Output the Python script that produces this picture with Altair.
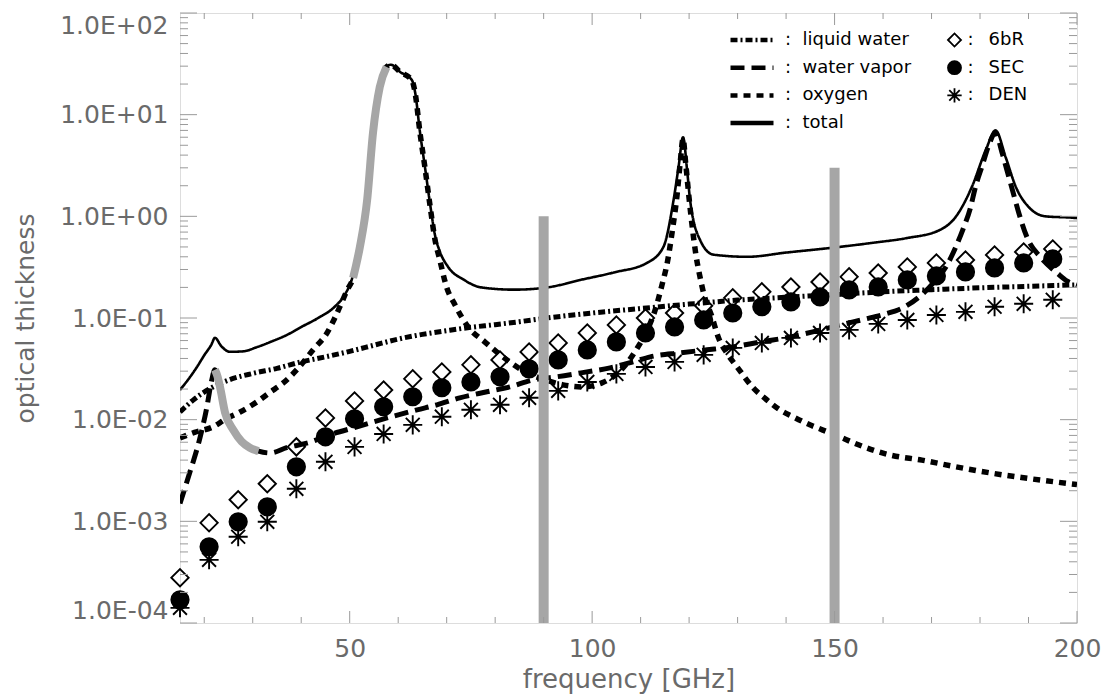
import altair as alt
import pandas as pd

# ---------------- data ----------------
freq_pts = [15, 21, 27, 33, 39, 45, 51, 57, 63, 69, 75, 81, 87, 93, 99, 105,
            111, 117, 123, 129, 135, 141, 147, 153, 159, 165, 171, 177, 183, 189, 195]
tau_6bR = [2.79e-4, 9.66e-4, 1.63e-3, 2.34e-3, 5.40e-3, 1.04e-2, 1.53e-2, 1.96e-2, 2.52e-2,
           2.95e-2, 3.46e-2, 3.87e-2, 4.64e-2, 5.69e-2, 7.13e-2, 8.55e-2, 0.100, 0.112, 0.132,
           0.158, 0.181, 0.202, 0.226, 0.254, 0.277, 0.318, 0.348, 0.372, 0.417, 0.447, 0.478]
tau_SEC = [1.69e-4, 5.61e-4, 9.89e-4, 1.39e-3, 3.44e-3, 6.78e-3, 1.02e-2, 1.34e-2, 1.68e-2,
           2.06e-2, 2.35e-2, 2.64e-2, 3.16e-2, 3.87e-2, 4.85e-2, 5.82e-2, 7.13e-2, 8.17e-2,
           9.57e-2, 0.112, 0.129, 0.144, 0.161, 0.189, 0.202, 0.237, 0.259, 0.284, 0.311, 0.348, 0.381]
tau_DEN = [1.41e-4, 4.18e-4, 7.05e-4, 9.89e-4, 2.09e-3, 3.85e-3, 5.40e-3, 7.24e-3, 8.89e-3,
           1.07e-2, 1.25e-2, 1.40e-2, 1.64e-2, 1.92e-2, 2.35e-2, 2.82e-2, 3.30e-2, 3.70e-2,
           4.34e-2, 5.08e-2, 5.69e-2, 6.37e-2, 7.13e-2, 7.64e-2, 8.75e-2, 9.57e-2, 0.107, 0.115,
           0.129, 0.138, 0.151]

lw_freq = [15, 18, 21, 25, 30, 35, 40, 45, 50, 55, 60, 65, 70, 75, 80, 85, 90, 100, 110, 120,
           130, 140, 150, 160, 170, 180, 190, 200]
lw_tau = [0.0119, 0.0160, 0.0200, 0.0245, 0.0285, 0.0320, 0.0370, 0.0415, 0.0470, 0.0540,
          0.0620, 0.0690, 0.0750, 0.0810, 0.0860, 0.0920, 0.0990, 0.1120, 0.1240, 0.1370,
          0.1500, 0.1600, 0.1700, 0.1810, 0.1900, 0.1980, 0.2050, 0.2120]

wv_freq = [15, 17, 19, 20.5, 21.5, 22.2, 22.7, 23.25, 24.3, 26, 27.7, 29.4, 31.2, 33.6, 37,
           41.8, 45.9, 51.5, 57.7, 63.9, 68, 72.7, 78.3, 83, 87.8, 92.7, 98.9, 103.7, 108.4,
           112, 118, 123.7, 129, 134.6, 140.8, 145.5, 151, 156, 160, 164.5, 168, 171, 173, 175,
           176.5, 178, 179, 180.5, 181.8, 183.2, 184.5, 185.5, 187, 188, 189.7, 192.4, 195.9,
           198, 200]
wv_tau = [0.0015, 0.003, 0.0063, 0.013, 0.024, 0.031, 0.027, 0.021, 0.0117, 0.0079, 0.0061,
          0.0053, 0.0049, 0.0047, 0.0053, 0.006, 0.0071, 0.0085, 0.0104, 0.0125, 0.014, 0.0164,
          0.0188, 0.021, 0.0246, 0.0264, 0.0295, 0.0323, 0.037, 0.0415, 0.0454, 0.0486, 0.052,
          0.058, 0.065, 0.073, 0.085, 0.097, 0.108, 0.129, 0.17, 0.24, 0.32, 0.5, 0.75, 1.2,
          1.9, 3.2, 5.0, 6.6, 4.3, 2.9, 1.6, 1.08, 0.62, 0.40, 0.277, 0.23, 0.21]

ox_freq = [15, 18, 21.8, 24.5, 27.4, 30.9, 33.5, 36.3, 39.1, 42.5, 45.3, 46.6, 48, 49.4, 50.7,
           52.1, 53.6, 54.8, 56.2, 57.6, 58.5, 60.4, 62.8, 63.5, 64.5, 65.5, 66.6, 67.6, 68.6,
           70, 71.7, 74.4, 77.9, 80.3, 83, 86.5, 90, 94, 98, 102, 105, 107, 109, 111, 113,
           114.5, 115.5, 116.5, 117.5, 118.2, 118.75, 119.3, 120, 120.7, 121.4, 122.2, 123,
           124.7, 126, 127.8, 129.9, 133.2, 136, 138.7, 141.4, 144.9, 147.6, 151, 154, 161.4,
           168, 175, 182, 189, 200]
ox_tau = [0.0066, 0.0075, 0.0085, 0.0102, 0.0119, 0.015, 0.0185, 0.023, 0.031, 0.049, 0.071,
          0.093, 0.13, 0.185, 0.248, 0.50, 1.45, 6.6, 18.7, 29.5, 31, 26.3, 21.9, 16.3, 6.6,
          3.06, 1.24, 0.586, 0.37, 0.2, 0.135, 0.082, 0.058, 0.0465, 0.037, 0.029, 0.025,
          0.022, 0.021, 0.023, 0.028, 0.035, 0.048, 0.07, 0.12, 0.22, 0.35, 0.7, 1.6, 3.5,
          5.8, 3.3, 1.5, 0.75, 0.42, 0.26, 0.175, 0.103, 0.065, 0.045, 0.033, 0.0206, 0.0157,
          0.0125, 0.0107, 0.0089, 0.0079, 0.0068, 0.0059, 0.0045, 0.0040, 0.00344, 0.0030,
          0.00268, 0.0023]

tot_freq = [15, 17, 18.5, 20, 21.5, 22.2, 23.5, 25.3, 28, 31, 33.6, 37, 40.1, 43.5, 46.9, 49,
            50.4, 52.1, 53.6, 54.8, 56.2, 57.6, 58.5, 60.4, 62.8, 63.5, 64.5, 65.5, 66.6, 67.6,
            68.6, 70.3, 73.6, 77.1, 83.9, 90.8, 97.6, 104.4, 111.4, 114.7, 116.8, 117.8, 118.75,
            119.6, 120.2, 122.3, 125, 132, 140, 151, 158, 164.8, 171.6, 175, 178.3, 181.2,
            183.2, 185.3, 187.4, 190, 193.5, 198.9, 200]
tot_tau = [0.0196, 0.026, 0.033, 0.043, 0.055, 0.064, 0.053, 0.0465, 0.047, 0.052, 0.058,
           0.068, 0.082, 0.100, 0.129, 0.17, 0.237, 0.55, 1.5, 6.7, 19, 29.6, 31, 26.3, 22,
           16.5, 6.7, 3.1, 1.3, 0.65, 0.45, 0.318, 0.237, 0.20, 0.19, 0.20, 0.237, 0.28, 0.35,
           0.5, 1.45, 3.0, 6.0, 2.8, 1.45, 0.58, 0.42, 0.40, 0.44, 0.50, 0.55, 0.61, 0.73,
           0.99, 1.94, 4.5, 7.0, 3.8, 1.94, 1.24, 1.0, 0.97, 0.96]

# grey highlighted parts of the curves
hl_wv_freq = [22.2, 22.7, 23.25, 24.3, 26, 27.7, 29.4, 31.2]
hl_wv_tau = [0.031, 0.027, 0.021, 0.0117, 0.0079, 0.0061, 0.0053, 0.0049]
hl_ox_freq = [50.7, 52.1, 53.6, 54.8, 56.2, 57.6]
hl_ox_tau = [0.248, 0.50, 1.45, 6.6, 18.7, 29.5]

# grey channel bars
bar_freq = [90, 150]
bar_base = [1e-4, 1e-4]
bar_top = [1.0, 3.0]

# axis tick positions
x_major = [50, 100, 150, 200]
x_minor = [20, 30, 40, 60, 70, 80, 90, 110, 120, 130, 140, 160, 170, 180, 190]
y_major = [1e-4, 1e-3, 1e-2, 1e-1, 1e0, 1e1, 1e2]
y_minor = [m * d for d in [1e-4, 1e-3, 1e-2, 1e-1, 1e0, 1e1] for m in range(2, 10)]

components = ["liquid water", "water vapor", "oxygen", "total"]
models = ["6bR", "SEC", "DEN"]

# ---------------- tables ----------------
lines_df = pd.concat([
    pd.DataFrame({"freq": lw_freq, "tau": lw_tau, "component": "liquid water"}),
    pd.DataFrame({"freq": wv_freq, "tau": wv_tau, "component": "water vapor"}),
    pd.DataFrame({"freq": ox_freq, "tau": ox_tau, "component": "oxygen"}),
    pd.DataFrame({"freq": tot_freq, "tau": tot_tau, "component": "total"}),
], ignore_index=True)

pts_df = pd.concat([
    pd.DataFrame({"freq": freq_pts, "tau": tau_6bR, "model": "6bR"}),
    pd.DataFrame({"freq": freq_pts, "tau": tau_SEC, "model": "SEC"}),
    pd.DataFrame({"freq": freq_pts, "tau": tau_DEN, "model": "DEN"}),
], ignore_index=True)

hl_df = pd.concat([
    pd.DataFrame({"freq": hl_wv_freq, "tau": hl_wv_tau, "seg": "wv"}),
    pd.DataFrame({"freq": hl_ox_freq, "tau": hl_ox_tau, "seg": "ox"}),
], ignore_index=True)

bars_df = pd.DataFrame({"freq": bar_freq, "tau": bar_base, "top": bar_top})

# ---------------- styling ----------------
FONT = "DejaVu Sans"
AX_GRAY = "#9a9a9a"
TXT_GRAY = "#6a6a6a"
HL_GRAY = "#a6a6a6"
W, H = 897, 610
NB = "\u00a0"
THIN = "\u2009"

X_SCALE = alt.Scale(domain=[15, 200], nice=False, zero=False)
Y_SCALE = alt.Scale(type="log", domain=[1e-4, 1e2], nice=False)

x_axis = alt.Axis(values=x_major, title="frequency [GHz]", grid=False, ticks=False, tickSize=0,
                  domain=False, labelFont=FONT, labelFontSize=25, labelColor=TXT_GRAY,
                  labelPadding=33, labelBaseline="alphabetic", labelFlush=False,
                  labelOverlap=False, titleFont=FONT, titleFontSize=26,
                  titleFontWeight="normal", titleColor=TXT_GRAY, titleX=W / 2, titleY=64,
                  titleBaseline="alphabetic", titleAlign="center")
y_axis = alt.Axis(values=y_major, title="optical thickness", grid=False, ticks=False, tickSize=0,
                  domain=False,
                  labelExpr="'1.0E' + (datum.value >= 1 ? '+' : '-') + '0' + abs(round(log(datum.value) / LN10))",
                  labelFont=FONT, labelFontSize=25, labelColor=TXT_GRAY, labelPadding=12,
                  labelFlush=True, labelOverlap=False, titleFont=FONT, titleFontSize=25,
                  titleFontWeight="normal", titleColor=TXT_GRAY, titleX=-155, titleY=H / 2,
                  titleAngle=270, titleBaseline="middle", titleAlign="center")

X = alt.X("freq:Q", scale=X_SCALE, axis=x_axis)
Y = alt.Y("tau:Q", scale=Y_SCALE, axis=y_axis)

line_legend = alt.Legend(title=None, orient="none", legendX=548, legendY=16.5,
                         symbolType="stroke", symbolSize=1849, symbolStrokeColor="black",
                         symbolStrokeWidth=4.5, labelFont=FONT, labelFontSize=18,
                         labelColor="black", labelExpr="':" + NB * 2 + "' + datum.label",
                         labelOffset=9, rowPadding=6.7, clipHeight=21, padding=0)

STAR = "M0,-1.1L0,1.1M-1.1,0L1.1,0M-0.8,-0.8L0.8,0.8M-0.8,0.8L0.8,-0.8"
marker_legend = alt.Legend(title=None, orient="none", legendX=765.5, legendY=16.5,
                           symbolSize=170, symbolStrokeColor="black", symbolStrokeWidth=1.8,
                           labelFont=FONT, labelFontSize=18, labelColor="black",
                           labelExpr="':" + NB * 2 + THIN + "' + datum.label", labelOffset=4,
                           rowPadding=6.7, clipHeight=21, padding=0)

width_cond = alt.StrokeWidthValue(5, condition=[
    {"test": "datum.component == 'total'", "value": 2.6},
    {"test": "datum.component == 'oxygen'", "value": 5.5},
])

lines = alt.Chart(lines_df).mark_line(color="black", interpolate="monotone", clip=True).encode(
    x=X, y=Y,
    strokeDash=alt.StrokeDash("component:N", sort=components,
                              scale=alt.Scale(domain=components,
                                              range=[[7, 3, 2, 3], [14, 7], [7, 6], [1, 0]]),
                              legend=line_legend),
    strokeWidth=width_cond,
)

points = alt.Chart(pts_df).mark_point(strokeWidth=1.9, opacity=1, size=300).encode(
    x=X, y=Y,
    shape=alt.Shape("model:N", sort=models,
                    scale=alt.Scale(domain=models, range=["diamond", "circle", STAR]),
                    legend=marker_legend),
    fill=alt.Fill("model:N", sort=models,
                  scale=alt.Scale(domain=models, range=["transparent", "black", "transparent"]),
                  legend=marker_legend),
    stroke=alt.Stroke("model:N", sort=models,
                      scale=alt.Scale(domain=models, range=["black", "black", "black"]),
                      legend=marker_legend),
)

highlight = alt.Chart(hl_df).mark_line(color=HL_GRAY, strokeWidth=8, interpolate="monotone",
                                       strokeCap="butt").encode(x=X, y=Y, detail="seg:N")

bars = alt.Chart(bars_df).mark_rule(color=HL_GRAY, strokeWidth=10).encode(x=X, y=Y, y2="top:Q")


def xticks(vals, y0, y1):
    return alt.Chart(pd.DataFrame({"freq": vals})).mark_rule(color=AX_GRAY, strokeWidth=1).encode(
        x=X, y=alt.value(y0), y2=alt.value(y1))


def yticks(vals, x0, x1):
    return alt.Chart(pd.DataFrame({"tau": vals})).mark_rule(color=AX_GRAY, strokeWidth=1).encode(
        y=Y, x=alt.value(x0), x2=alt.value(x1))


ticks = [
    xticks(x_major, H, H - 12), xticks(x_minor, H, H - 6),
    xticks(x_major, 0, 12), xticks(x_minor, 0, 6),
    yticks(y_major, 0, 17), yticks(y_minor, 0, 8),
    yticks(y_major, W, W - 17), yticks(y_minor, W, W - 8),
]

chart = alt.layer(lines, points, highlight, bars, *ticks).properties(
    width=W, height=H,
    autosize=alt.AutoSizeParams(type="none"),
    padding={"left": 180, "top": 13, "right": 32, "bottom": 77},
).configure_view(stroke=AX_GRAY, strokeWidth=1.5).configure(background="white")

chart.save("out.html", embed_options={"renderer": "svg", "actions": False})
